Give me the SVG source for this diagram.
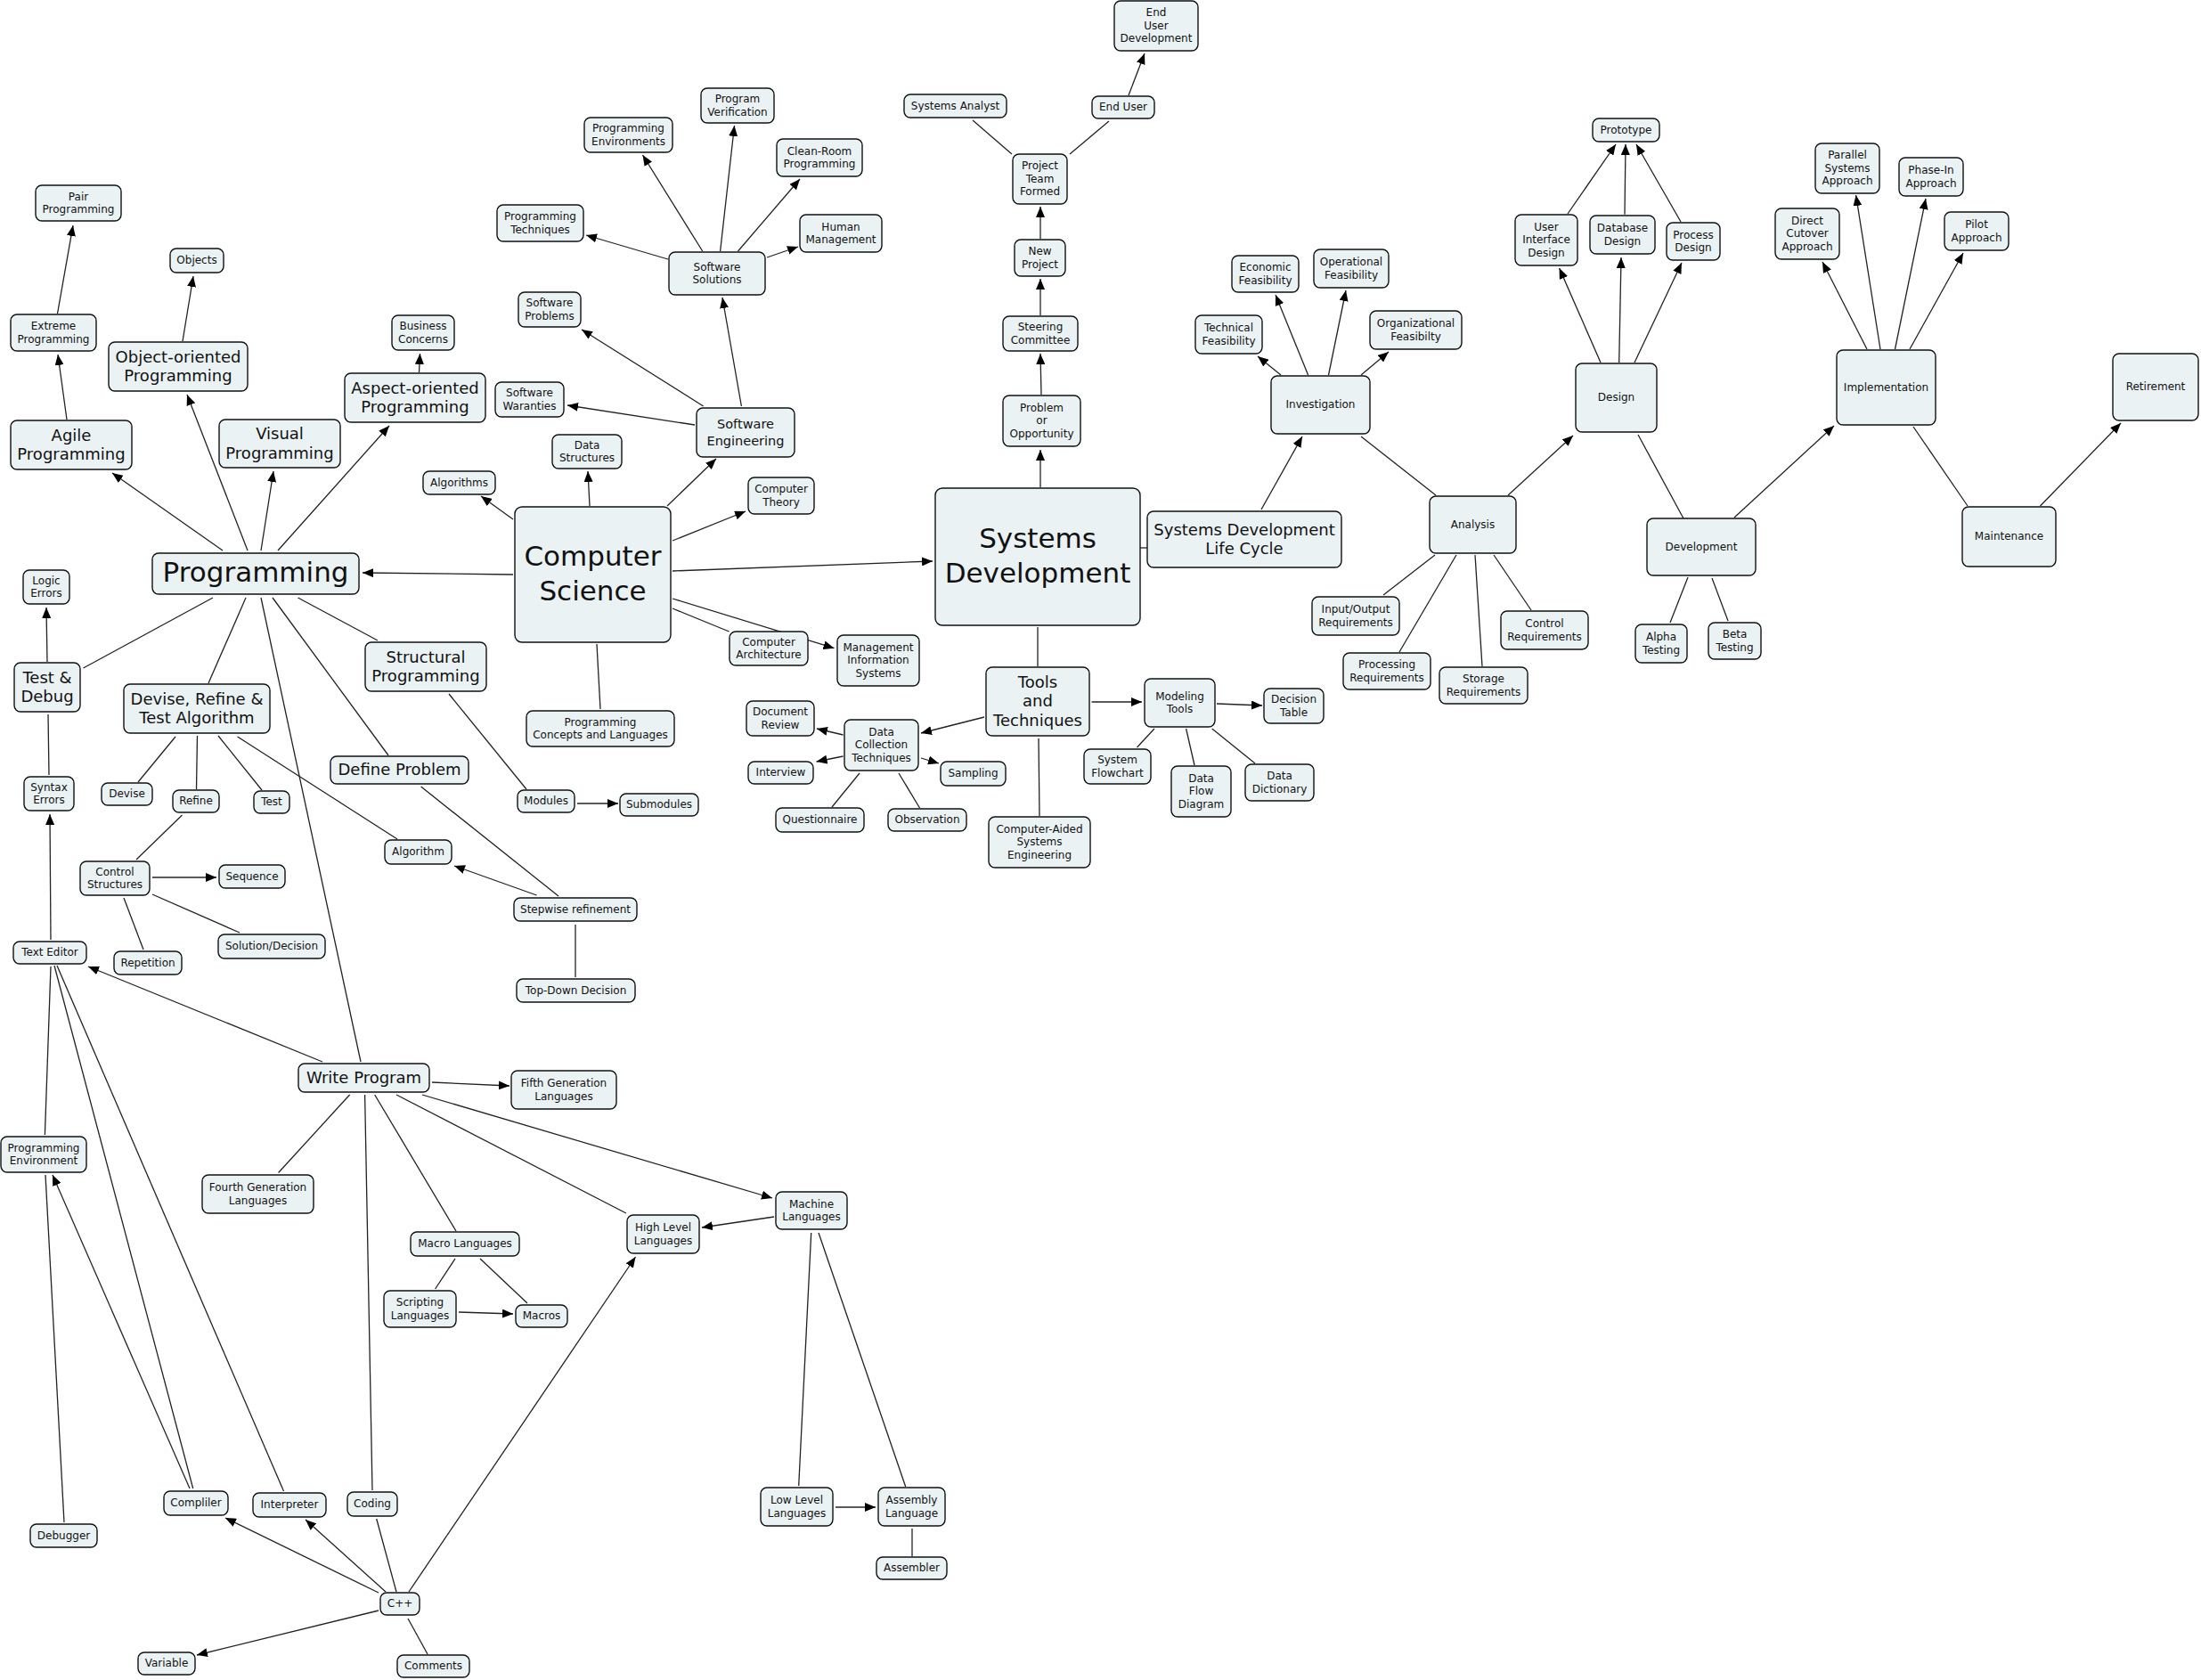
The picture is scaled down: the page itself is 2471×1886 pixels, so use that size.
<svg xmlns="http://www.w3.org/2000/svg" width="2471" height="1886" viewBox="0 0 2471 1886">
<defs>
<marker id="a" markerWidth="12" markerHeight="10" refX="12" refY="5" orient="auto" markerUnits="userSpaceOnUse"><path d="M0,0L12,5L0,10z" fill="#000"/></marker>
<style>
rect{fill:#ebf2f4;stroke:#111;stroke-width:1.4}
text{font-family:"DejaVu Sans",Verdana,sans-serif;fill:#111;text-anchor:middle}
.s{font-size:12px}.m{font-size:18px}.e{font-size:14.5px}.l{font-size:31px}
#c path{fill:none;stroke:#222;stroke-width:1.3}
#c .r{marker-end:url(#a)}
</style>
</defs>
<rect x="0" y="0" width="2471" height="1886" style="fill:#fff;stroke:none"/>
<g id="c">
<path class="r" d="M64.5,352L82,253"/>
<path class="r" d="M75,471L65,398"/>
<path class="r" d="M205,383L217,310"/>
<path class="r" d="M250,618L126,531"/>
<path class="r" d="M278,618L210,443"/>
<path class="r" d="M293,618L307,529"/>
<path class="r" d="M312,618L437,478"/>
<path class="r" d="M470.5,418L471.5,397"/>
<path class="r" d="M576,583L540,557"/>
<path class="r" d="M576,645L407,643"/>
<path d="M239,671L93.5,750"/>
<path d="M276,671L234,767"/>
<path d="M293,671L405,1192"/>
<path d="M306,671L436,848"/>
<path d="M334.5,671L424,719"/>
<path class="r" d="M53,743L52,682"/>
<path d="M55,870L54,802"/>
<path class="r" d="M57,1055L56,914"/>
<path d="M197,827L155,878"/>
<path d="M221.5,826L220.5,886"/>
<path d="M245,826L294,887"/>
<path d="M266.6,827L446,942"/>
<path d="M204.5,915L153,965"/>
<path class="r" d="M171,985L243,985"/>
<path d="M171,1004L269,1047"/>
<path d="M139,1008L161,1066"/>
<path d="M504,779L591,886"/>
<path class="r" d="M648,902L694,902"/>
<path d="M472.6,883L627,1006"/>
<path class="r" d="M602.5,1005L510,972"/>
<path d="M646,1038L646,1097"/>
<path d="M670,723L674,796"/>
<path class="r" d="M362,1192L99,1085"/>
<path d="M57,1085L50.4,1274"/>
<path d="M61,1084L216.7,1671"/>
<path d="M64,1084L318.5,1674"/>
<path class="r" d="M213,1671L59,1319"/>
<path d="M51,1319L72,1709"/>
<path class="r" d="M485,1215L572,1219"/>
<path d="M392.6,1229L312.6,1316.5"/>
<path d="M409.6,1229L418,1673"/>
<path d="M420.7,1229L512,1382"/>
<path d="M445,1229L703,1362"/>
<path class="r" d="M474,1229L867,1345"/>
<path d="M511,1413L488.6,1447"/>
<path d="M539,1413L592,1463"/>
<path class="r" d="M515,1473L576,1475"/>
<path class="r" d="M425,1788L253,1704"/>
<path class="r" d="M433,1787L343,1706"/>
<path d="M445,1787L422.7,1705"/>
<path class="r" d="M459,1787L713.5,1411"/>
<path class="r" d="M425,1808L221,1858"/>
<path d="M458,1817L480,1857"/>
<path class="r" d="M869,1366L788,1378"/>
<path d="M910.7,1384L896.7,1668"/>
<path d="M919,1384L1016.7,1669"/>
<path class="r" d="M938,1692L983,1692"/>
<path d="M1024,1716L1024,1747"/>
<path class="r" d="M750,291L658,264"/>
<path class="r" d="M788.7,282L721.5,174"/>
<path class="r" d="M808.6,282L824.5,141"/>
<path class="r" d="M828.5,282L898,201"/>
<path class="r" d="M861,289L896,277"/>
<path class="r" d="M832.4,456L811,334"/>
<path class="r" d="M789.7,456L653,370"/>
<path class="r" d="M780,477L637,455"/>
<path class="r" d="M662,568L660,529"/>
<path class="r" d="M749,568L804,515"/>
<path class="r" d="M755,607L837,574"/>
<path class="r" d="M755,641L1047,630"/>
<path d="M755,683L818.6,709"/>
<path class="r" d="M755,672L936.5,727.7"/>
<path class="r" d="M1168,547L1168,505"/>
<path d="M1280,615L1288,615"/>
<path d="M1165,704L1165,748"/>
<path class="r" d="M1169,443L1168,397"/>
<path class="r" d="M1168,354L1168,313"/>
<path class="r" d="M1168,268L1168,232"/>
<path d="M1136,173L1092,135"/>
<path d="M1201,173L1245,136"/>
<path class="r" d="M1267,107L1285,60"/>
<path class="r" d="M1225.6,788L1282,788"/>
<path class="r" d="M1105,805L1034,823"/>
<path d="M1166,829L1167,916"/>
<path class="r" d="M946.5,825L917,818"/>
<path class="r" d="M946.5,849L916.6,855"/>
<path class="r" d="M1034,851L1054,857"/>
<path d="M965,868L934,906"/>
<path d="M1009,868L1032.5,907"/>
<path class="r" d="M1366,790L1417,792"/>
<path d="M1296,818L1276.5,839"/>
<path d="M1331.6,818L1341,859"/>
<path d="M1360.7,818L1409,857"/>
<path class="r" d="M1416,572L1462,490"/>
<path class="r" d="M1438,421L1412,400"/>
<path class="r" d="M1468.6,421L1432,331"/>
<path class="r" d="M1491.5,421L1511,326"/>
<path class="r" d="M1528,421L1559,395"/>
<path d="M1528,490L1612,556"/>
<path class="r" d="M1693,556L1766,489"/>
<path d="M1611,623L1553,668"/>
<path d="M1635,623L1571,732"/>
<path d="M1656,623L1664,748"/>
<path d="M1677,623L1719,685"/>
<path class="r" d="M1797,407L1750.6,301"/>
<path class="r" d="M1817.7,407L1820,289"/>
<path class="r" d="M1835,407L1888,295"/>
<path class="r" d="M1760,240L1814,162"/>
<path class="r" d="M1824,240.7L1825,162"/>
<path class="r" d="M1887,249L1837,162"/>
<path d="M1839,488L1890,582"/>
<path class="r" d="M1947,581L2059,478"/>
<path class="r" d="M2096,392L2046,294"/>
<path class="r" d="M2111,392L2083.6,219"/>
<path class="r" d="M2127.5,392L2162,223"/>
<path class="r" d="M2144,392L2204,284"/>
<path d="M2148,479L2209,568"/>
<path class="r" d="M2290.5,568L2381,475"/>
<path d="M1895,648L1875,699"/>
<path d="M1922,649L1940,697"/>
</g>
<g id="n-pair"><rect x="40" y="208" width="96" height="40" rx="7"/><text class="s" x="88" y="224.6">Pair<tspan x="88" dy="14.4">Programming</tspan></text></g>
<g id="n-objects"><rect x="191" y="279" width="60" height="27" rx="7"/><text class="s" x="221" y="296.3">Objects</text></g>
<g id="n-extreme"><rect x="12" y="353" width="96" height="41" rx="7"/><text class="s" x="60" y="370.1">Extreme<tspan x="60" dy="14.4">Programming</tspan></text></g>
<g id="n-business"><rect x="440" y="354" width="70" height="39" rx="7"/><text class="s" x="475" y="370.1">Business<tspan x="475" dy="14.4">Concerns</tspan></text></g>
<g id="n-algorithms"><rect x="475" y="529" width="81" height="26" rx="7"/><text class="s" x="515.5" y="545.8">Algorithms</text></g>
<g id="n-logic"><rect x="26" y="640" width="52" height="38" rx="7"/><text class="s" x="52" y="655.6">Logic<tspan x="52" dy="14.4">Errors</tspan></text></g>
<g id="n-syntax"><rect x="27" y="872" width="56" height="38" rx="7"/><text class="s" x="55" y="887.6">Syntax<tspan x="55" dy="14.4">Errors</tspan></text></g>
<g id="n-devise"><rect x="114" y="879" width="57" height="25" rx="7"/><text class="s" x="142.5" y="895.3">Devise</text></g>
<g id="n-refine"><rect x="194" y="887" width="52" height="25" rx="7"/><text class="s" x="220" y="903.3">Refine</text></g>
<g id="n-test"><rect x="285" y="888" width="40" height="25" rx="7"/><text class="s" x="305" y="904.3">Test</text></g>
<g id="n-algorithm"><rect x="432" y="943" width="75" height="27" rx="7"/><text class="s" x="469.5" y="960.3">Algorithm</text></g>
<g id="n-control"><rect x="90" y="967" width="78" height="38" rx="7"/><text class="s" x="129" y="982.6">Control<tspan x="129" dy="14.4">Structures</tspan></text></g>
<g id="n-sequence"><rect x="246" y="971" width="74" height="26" rx="7"/><text class="s" x="283" y="987.8">Sequence</text></g>
<g id="n-stepwise"><rect x="577" y="1008" width="138" height="26" rx="7"/><text class="s" x="646" y="1024.8">Stepwise refinement</text></g>
<g id="n-solution"><rect x="245" y="1049" width="120" height="27" rx="7"/><text class="s" x="305" y="1066.3">Solution/Decision</text></g>
<g id="n-texteditor"><rect x="15" y="1057" width="82" height="25" rx="7"/><text class="s" x="56" y="1073.3">Text Editor</text></g>
<g id="n-repetition"><rect x="128" y="1068" width="76" height="26" rx="7"/><text class="s" x="166" y="1084.8">Repetition</text></g>
<g id="n-topdown"><rect x="580" y="1099" width="133" height="26" rx="7"/><text class="s" x="646.5" y="1115.8">Top-Down Decision</text></g>
<g id="n-modules"><rect x="581" y="887" width="64" height="25" rx="7"/><text class="s" x="613" y="903.3">Modules</text></g>
<g id="n-submodules"><rect x="696" y="891" width="88" height="25" rx="7"/><text class="s" x="740" y="907.3">Submodules</text></g>
<g id="n-progconcepts"><rect x="591" y="798" width="166" height="40" rx="7"/><text class="s" x="674" y="814.6">Programming<tspan x="674" dy="14.4">Concepts and Languages</tspan></text></g>
<g id="n-datastructures"><rect x="620" y="488" width="78" height="38" rx="7"/><text class="s" x="659" y="503.6">Data<tspan x="659" dy="14.4">Structures</tspan></text></g>
<g id="n-comptheory"><rect x="840" y="536" width="74" height="41" rx="7"/><text class="s" x="877" y="553.1">Computer<tspan x="877" dy="14.4">Theory</tspan></text></g>
<g id="n-comparch"><rect x="819" y="709" width="88" height="38" rx="7"/><text class="s" x="863" y="724.6">Computer<tspan x="863" dy="14.4">Architecture</tspan></text></g>
<g id="n-mis"><rect x="940" y="713" width="92" height="57" rx="7"/><text class="s" x="986" y="730.9">Management<tspan x="986" dy="14.4">Information</tspan><tspan x="986" dy="14.4">Systems</tspan></text></g>
<g id="n-softwarranties"><rect x="556" y="429" width="77" height="39" rx="7"/><text class="s" x="594.5" y="445.1">Software<tspan x="594.5" dy="14.4">Waranties</tspan></text></g>
<g id="n-softproblems"><rect x="582" y="328" width="70" height="39" rx="7"/><text class="s" x="617" y="344.1">Software<tspan x="617" dy="14.4">Problems</tspan></text></g>
<g id="n-softsolutions"><rect x="751" y="283" width="108" height="48" rx="7"/><text class="s" x="805" y="303.6">Software<tspan x="805" dy="14.4">Solutions</tspan></text></g>
<g id="n-progtech"><rect x="558" y="230" width="97" height="41" rx="7"/><text class="s" x="606.5" y="247.1">Programming<tspan x="606.5" dy="14.4">Techniques</tspan></text></g>
<g id="n-progenvs"><rect x="656" y="132" width="99" height="39" rx="7"/><text class="s" x="705.5" y="148.1">Programming<tspan x="705.5" dy="14.4">Environments</tspan></text></g>
<g id="n-progverif"><rect x="787" y="99" width="82" height="39" rx="7"/><text class="s" x="828" y="115.1">Program<tspan x="828" dy="14.4">Verification</tspan></text></g>
<g id="n-cleanroom"><rect x="872" y="156" width="96" height="42" rx="7"/><text class="s" x="920" y="173.6">Clean-Room<tspan x="920" dy="14.4">Programming</tspan></text></g>
<g id="n-humanmgmt"><rect x="898" y="241" width="92" height="42" rx="7"/><text class="s" x="944" y="258.6">Human<tspan x="944" dy="14.4">Management</tspan></text></g>
<g id="n-problem"><rect x="1126" y="444" width="87" height="57" rx="7"/><text class="s" x="1169.5" y="461.9">Problem<tspan x="1169.5" dy="14.4">or</tspan><tspan x="1169.5" dy="14.4">Opportunity</tspan></text></g>
<g id="n-steering"><rect x="1126" y="355" width="84" height="39" rx="7"/><text class="s" x="1168" y="371.1">Steering<tspan x="1168" dy="14.4">Committee</tspan></text></g>
<g id="n-newproject"><rect x="1139" y="269" width="57" height="41" rx="7"/><text class="s" x="1167.5" y="286.1">New<tspan x="1167.5" dy="14.4">Project</tspan></text></g>
<g id="n-projectteam"><rect x="1137" y="173" width="61" height="56" rx="7"/><text class="s" x="1167.5" y="190.4">Project<tspan x="1167.5" dy="14.4">Team</tspan><tspan x="1167.5" dy="14.4">Formed</tspan></text></g>
<g id="n-sysanalyst"><rect x="1015" y="106" width="115" height="26" rx="7"/><text class="s" x="1072.5" y="122.8">Systems Analyst</text></g>
<g id="n-enduser"><rect x="1226" y="108" width="70" height="25" rx="7"/><text class="s" x="1261" y="124.3">End User</text></g>
<g id="n-enduserdev"><rect x="1251" y="1" width="94" height="56" rx="7"/><text class="s" x="1298" y="18.4">End<tspan x="1298" dy="14.4">User</tspan><tspan x="1298" dy="14.4">Development</tspan></text></g>
<g id="n-modeling"><rect x="1285" y="762" width="79" height="54" rx="7"/><text class="s" x="1324.5" y="785.6">Modeling<tspan x="1324.5" dy="14.4">Tools</tspan></text></g>
<g id="n-decisiontable"><rect x="1419" y="773" width="67" height="39" rx="7"/><text class="s" x="1452.5" y="789.1">Decision<tspan x="1452.5" dy="14.4">Table</tspan></text></g>
<g id="n-sysflowchart"><rect x="1217" y="841" width="75" height="39" rx="7"/><text class="s" x="1254.5" y="857.1">System<tspan x="1254.5" dy="14.4">Flowchart</tspan></text></g>
<g id="n-dfd"><rect x="1315" y="860" width="67" height="57" rx="7"/><text class="s" x="1348.5" y="877.9">Data<tspan x="1348.5" dy="14.4">Flow</tspan><tspan x="1348.5" dy="14.4">Diagram</tspan></text></g>
<g id="n-datadict"><rect x="1398" y="858" width="77" height="41" rx="7"/><text class="s" x="1436.5" y="875.1">Data<tspan x="1436.5" dy="14.4">Dictionary</tspan></text></g>
<g id="n-dct"><rect x="948" y="808" width="83" height="57" rx="7"/><text class="s" x="989.5" y="825.9">Data<tspan x="989.5" dy="14.4">Collection</tspan><tspan x="989.5" dy="14.4">Techniques</tspan></text></g>
<g id="n-docreview"><rect x="838" y="787" width="76" height="39" rx="7"/><text class="s" x="876" y="803.1">Document<tspan x="876" dy="14.4">Review</tspan></text></g>
<g id="n-interview"><rect x="840" y="855" width="73" height="25" rx="7"/><text class="s" x="876.5" y="871.3">Interview</text></g>
<g id="n-sampling"><rect x="1056" y="855" width="73" height="27" rx="7"/><text class="s" x="1092.5" y="872.3">Sampling</text></g>
<g id="n-questionnaire"><rect x="871" y="907" width="99" height="27" rx="7"/><text class="s" x="920.5" y="924.3">Questionnaire</text></g>
<g id="n-observation"><rect x="997" y="908" width="88" height="25" rx="7"/><text class="s" x="1041" y="924.3">Observation</text></g>
<g id="n-case"><rect x="1110" y="917" width="114" height="57" rx="7"/><text class="s" x="1167" y="934.9">Computer-Aided<tspan x="1167" dy="14.4">Systems</tspan><tspan x="1167" dy="14.4">Engineering</tspan></text></g>
<g id="n-investigation"><rect x="1427" y="422" width="111" height="65" rx="7"/><text class="s" x="1482.5" y="458.3">Investigation</text></g>
<g id="n-technical"><rect x="1342" y="354" width="75" height="43" rx="7"/><text class="s" x="1379.5" y="372.1">Technical<tspan x="1379.5" dy="14.4">Feasibility</tspan></text></g>
<g id="n-economic"><rect x="1383" y="287" width="75" height="41" rx="7"/><text class="s" x="1420.5" y="304.1">Economic<tspan x="1420.5" dy="14.4">Feasibility</tspan></text></g>
<g id="n-operational"><rect x="1475" y="280" width="84" height="43" rx="7"/><text class="s" x="1517" y="298.1">Operational<tspan x="1517" dy="14.4">Feasibility</tspan></text></g>
<g id="n-organizational"><rect x="1538" y="349" width="103" height="43" rx="7"/><text class="s" x="1589.5" y="367.1">Organizational<tspan x="1589.5" dy="14.4">Feasibilty</tspan></text></g>
<g id="n-analysis"><rect x="1605" y="557" width="97" height="64" rx="7"/><text class="s" x="1653.5" y="592.8">Analysis</text></g>
<g id="n-io"><rect x="1473" y="670" width="98" height="43" rx="7"/><text class="s" x="1522" y="688.1">Input/Output<tspan x="1522" dy="14.4">Requirements</tspan></text></g>
<g id="n-processing"><rect x="1508" y="733" width="98" height="41" rx="7"/><text class="s" x="1557" y="750.1">Processing<tspan x="1557" dy="14.4">Requirements</tspan></text></g>
<g id="n-storage"><rect x="1616" y="749" width="99" height="41" rx="7"/><text class="s" x="1665.5" y="766.1">Storage<tspan x="1665.5" dy="14.4">Requirements</tspan></text></g>
<g id="n-controlreq"><rect x="1685" y="686" width="98" height="43" rx="7"/><text class="s" x="1734" y="704.1">Control<tspan x="1734" dy="14.4">Requirements</tspan></text></g>
<g id="n-design"><rect x="1769" y="408" width="91" height="77" rx="7"/><text class="s" x="1814.5" y="450.3">Design</text></g>
<g id="n-uid"><rect x="1701" y="241" width="70" height="57" rx="7"/><text class="s" x="1736" y="258.9">User<tspan x="1736" dy="14.4">Interface</tspan><tspan x="1736" dy="14.4">Design</tspan></text></g>
<g id="n-dbdesign"><rect x="1785" y="242" width="73" height="43" rx="7"/><text class="s" x="1821.5" y="260.1">Database<tspan x="1821.5" dy="14.4">Design</tspan></text></g>
<g id="n-processdesign"><rect x="1871" y="250" width="60" height="42" rx="7"/><text class="s" x="1901" y="267.6">Process<tspan x="1901" dy="14.4">Design</tspan></text></g>
<g id="n-prototype"><rect x="1788" y="133" width="75" height="26" rx="7"/><text class="s" x="1825.5" y="149.8">Prototype</text></g>
<g id="n-development"><rect x="1849" y="582" width="122" height="64" rx="7"/><text class="s" x="1910" y="617.8">Development</text></g>
<g id="n-alpha"><rect x="1836" y="701" width="58" height="43" rx="7"/><text class="s" x="1865" y="719.1">Alpha<tspan x="1865" dy="14.4">Testing</tspan></text></g>
<g id="n-beta"><rect x="1918" y="699" width="59" height="41" rx="7"/><text class="s" x="1947.5" y="716.1">Beta<tspan x="1947.5" dy="14.4">Testing</tspan></text></g>
<g id="n-implementation"><rect x="2062" y="393" width="111" height="84" rx="7"/><text class="s" x="2117.5" y="438.8">Implementation</text></g>
<g id="n-direct"><rect x="1993" y="234" width="72" height="57" rx="7"/><text class="s" x="2029" y="251.9">Direct<tspan x="2029" dy="14.4">Cutover</tspan><tspan x="2029" dy="14.4">Approach</tspan></text></g>
<g id="n-parallel"><rect x="2038" y="161" width="72" height="56" rx="7"/><text class="s" x="2074" y="178.4">Parallel<tspan x="2074" dy="14.4">Systems</tspan><tspan x="2074" dy="14.4">Approach</tspan></text></g>
<g id="n-phasein"><rect x="2132" y="177" width="72" height="43" rx="7"/><text class="s" x="2168" y="195.1">Phase-In<tspan x="2168" dy="14.4">Approach</tspan></text></g>
<g id="n-pilot"><rect x="2183" y="238" width="72" height="43" rx="7"/><text class="s" x="2219" y="256.1">Pilot<tspan x="2219" dy="14.4">Approach</tspan></text></g>
<g id="n-maintenance"><rect x="2203" y="569" width="105" height="67" rx="7"/><text class="s" x="2255.5" y="606.3">Maintenance</text></g>
<g id="n-retirement"><rect x="2372" y="397" width="96" height="75" rx="7"/><text class="s" x="2420" y="438.3">Retirement</text></g>
<g id="n-fifthgen"><rect x="574" y="1202" width="118" height="43" rx="7"/><text class="s" x="633" y="1220.1">Fifth Generation<tspan x="633" dy="14.4">Languages</tspan></text></g>
<g id="n-progenv"><rect x="1" y="1276" width="96" height="40" rx="7"/><text class="s" x="49" y="1292.6">Programming<tspan x="49" dy="14.4">Environment</tspan></text></g>
<g id="n-fourthgen"><rect x="227" y="1319" width="125" height="43" rx="7"/><text class="s" x="289.5" y="1337.1">Fourth Generation<tspan x="289.5" dy="14.4">Languages</tspan></text></g>
<g id="n-macrolang"><rect x="461" y="1383" width="122" height="27" rx="7"/><text class="s" x="522" y="1400.3">Macro Languages</text></g>
<g id="n-highlevel"><rect x="704" y="1364" width="81" height="43" rx="7"/><text class="s" x="744.5" y="1382.1">High Level<tspan x="744.5" dy="14.4">Languages</tspan></text></g>
<g id="n-machine"><rect x="871" y="1338" width="80" height="42" rx="7"/><text class="s" x="911" y="1355.6">Machine<tspan x="911" dy="14.4">Languages</tspan></text></g>
<g id="n-scripting"><rect x="431" y="1449" width="81" height="41" rx="7"/><text class="s" x="471.5" y="1466.1">Scripting<tspan x="471.5" dy="14.4">Languages</tspan></text></g>
<g id="n-macros"><rect x="579" y="1465" width="58" height="25" rx="7"/><text class="s" x="608" y="1481.3">Macros</text></g>
<g id="n-compiler"><rect x="184" y="1674" width="72" height="27" rx="7"/><text class="s" x="220" y="1691.3">Compliler</text></g>
<g id="n-interpreter"><rect x="284" y="1676" width="82" height="27" rx="7"/><text class="s" x="325" y="1693.3">Interpreter</text></g>
<g id="n-coding"><rect x="390" y="1675" width="56" height="27" rx="7"/><text class="s" x="418" y="1692.3">Coding</text></g>
<g id="n-debugger"><rect x="34" y="1711" width="75" height="26" rx="7"/><text class="s" x="71.5" y="1727.8">Debugger</text></g>
<g id="n-cpp"><rect x="427" y="1788" width="44" height="25" rx="7"/><text class="s" x="449" y="1804.3">C++</text></g>
<g id="n-variable"><rect x="155" y="1855" width="64" height="25" rx="7"/><text class="s" x="187" y="1871.3">Variable</text></g>
<g id="n-comments"><rect x="446" y="1858" width="81" height="25" rx="7"/><text class="s" x="486.5" y="1874.3">Comments</text></g>
<g id="n-lowlevel"><rect x="854" y="1670" width="81" height="43" rx="7"/><text class="s" x="894.5" y="1688.1">Low Level<tspan x="894.5" dy="14.4">Languages</tspan></text></g>
<g id="n-assembly"><rect x="986" y="1670" width="75" height="43" rx="7"/><text class="s" x="1023.5" y="1688.1">Assembly<tspan x="1023.5" dy="14.4">Language</tspan></text></g>
<g id="n-assembler"><rect x="984" y="1748" width="79" height="25" rx="7"/><text class="s" x="1023.5" y="1764.3">Assembler</text></g>
<g id="n-oop"><rect x="122" y="384" width="156" height="55" rx="7"/><text class="m" x="200" y="406.5">Object-oriented<tspan x="200" dy="21.6">Programming</tspan></text></g>
<g id="n-aspect"><rect x="387" y="419" width="158" height="55" rx="7"/><text class="m" x="466" y="441.5">Aspect-oriented<tspan x="466" dy="21.6">Programming</tspan></text></g>
<g id="n-agile"><rect x="12" y="472" width="136" height="55" rx="7"/><text class="m" x="80" y="494.5">Agile<tspan x="80" dy="21.6">Programming</tspan></text></g>
<g id="n-visual"><rect x="246" y="471" width="136" height="54" rx="7"/><text class="m" x="314" y="493">Visual<tspan x="314" dy="21.6">Programming</tspan></text></g>
<g id="n-testdebug"><rect x="16" y="744" width="74" height="55" rx="7"/><text class="m" x="53" y="766.5">Test &amp;<tspan x="53" dy="21.6">Debug</tspan></text></g>
<g id="n-drt"><rect x="139" y="768" width="164" height="55" rx="7"/><text class="m" x="221" y="790.5">Devise, Refine &amp;<tspan x="221" dy="21.6">Test Algorithm</tspan></text></g>
<g id="n-structural"><rect x="410" y="721" width="136" height="55" rx="7"/><text class="m" x="478" y="743.5">Structural<tspan x="478" dy="21.6">Programming</tspan></text></g>
<g id="n-defineproblem"><rect x="371" y="849" width="155" height="31" rx="7"/><text class="m" x="448.5" y="870.3">Define Problem</text></g>
<g id="n-sdlc"><rect x="1288" y="574" width="218" height="63" rx="7"/><text class="m" x="1397" y="600.5">Systems Development<tspan x="1397" dy="21.6">Life Cycle</tspan></text></g>
<g id="n-tools"><rect x="1107" y="749" width="116" height="77" rx="7"/><text class="m" x="1165" y="771.7">Tools<tspan x="1165" dy="21.6">and</tspan><tspan x="1165" dy="21.6">Techniques</tspan></text></g>
<g id="n-writeprogram"><rect x="335" y="1194" width="147" height="32" rx="7"/><text class="m" x="408.5" y="1215.8">Write Program</text></g>
<g id="n-softeng"><rect x="782" y="458" width="110" height="55" rx="7"/><text class="e" x="837" y="480.5">Software<tspan x="837" dy="19">Engineering</tspan></text></g>
<g id="n-programming"><rect x="171" y="621" width="232" height="46" rx="7"/><text class="l" x="287" y="653">Programming</text></g>
<g id="n-cs"><rect x="578" y="569" width="175" height="152" rx="8"/><text class="l" x="665.5" y="634.5">Computer<tspan x="665.5" dy="39">Science</tspan></text></g>
<g id="n-sd"><rect x="1050" y="548" width="230" height="154" rx="8"/><text class="l" x="1165" y="614.5">Systems<tspan x="1165" dy="39">Development</tspan></text></g>
</svg>
